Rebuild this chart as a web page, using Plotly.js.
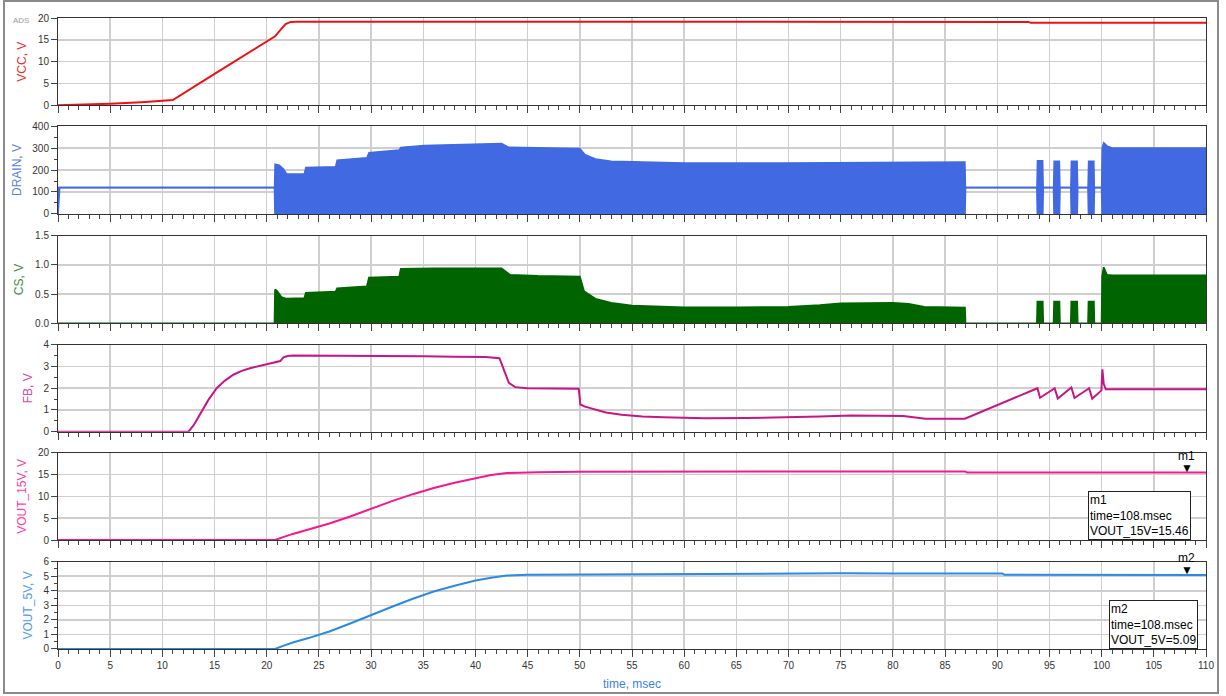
<!DOCTYPE html>
<html><head><meta charset="utf-8">
<script src="https://cdn.plot.ly/plotly-3.0.1.min.js"></script>
<style>
html,body{margin:0;padding:0;background:#fff;}
#wrap{position:relative;width:1226px;height:696px;overflow:hidden;}
#chart{width:1226px;height:696px;}
#frame{position:absolute;left:3px;top:0px;width:1212px;height:690px;border:2px solid #8a8a8a;pointer-events:none;}
</style></head><body>
<div id="wrap"><div id="chart"></div><div id="frame"></div></div>
<script>
// ---- data (time in msec) ----
const vcc_t = [0, 2, 5, 8, 10, 11.0, 15, 20, 20.8, 21.4, 21.8, 22.3, 22.8, 50, 80, 93, 93.2, 110];
const vcc_v = [0, 0.1, 0.35, 0.7, 1.0, 1.2, 7.2, 14.7, 15.8, 17.5, 18.6, 19.1, 19.15, 19.15, 19.1, 19.1, 18.9, 18.9];

const drain_t  = [0, 0.15, 20.75, 20.8, 21.2, 21.6, 21.9, 23.6, 23.75, 26.6, 26.75, 29.6, 29.8, 32.7, 32.85, 35.1, 38, 40.1, 42.5, 43.2, 47, 50.0, 50.5, 51.5, 53, 60, 70, 80, 82, 86.9, 86.95, 93.8, 93.85, 94.35, 94.4, 95.4, 95.45, 95.95, 96.0, 97.05, 97.1, 97.65, 97.7, 98.7, 98.75, 99.25, 99.3, 100.0, 100.05, 100.2, 100.5, 101, 110];
const drain_hi = [120, 120, 120, 226, 222, 205, 182, 182, 212, 215, 245, 256, 279, 291, 303, 312, 316, 320, 320, 303, 300, 298, 270, 250, 240, 232, 232, 233, 236, 236, 120, 120, 242, 242, 120, 120, 240, 240, 120, 120, 240, 240, 120, 120, 240, 240, 120, 120, 300, 324, 310, 300, 300];
const drain_lo = [0, 120, 120, 0, 0, 0, 0, 0, 0, 0, 0, 0, 0, 0, 0, 0, 0, 0, 0, 0, 0, 0, 0, 0, 0, 0, 0, 0, 0, 0, 120, 120, 0, 0, 120, 120, 0, 0, 120, 120, 0, 0, 120, 120, 0, 0, 120, 120, 0, 0, 0, 0, 0];

const cs_t = [0, 20.75, 20.8, 21.0, 21.4, 21.9, 23.6, 23.75, 26.6, 26.75, 29.6, 29.8, 32.7, 32.85, 36, 40, 42.5, 43.3, 46, 50.0, 50.4, 51.5, 53, 55, 60, 65, 70, 73, 75, 80, 81.5, 83, 86.9, 86.95, 93.8, 93.85, 94.35, 94.4, 95.4, 95.45, 95.95, 96.0, 97.05, 97.1, 97.65, 97.7, 98.7, 98.75, 99.25, 99.3, 100.0, 100.05, 100.2, 100.5, 101, 110];
const cs_v = [0, 0, 0.58, 0.55, 0.45, 0.42, 0.43, 0.52, 0.54, 0.6, 0.63, 0.78, 0.8, 0.93, 0.94, 0.94, 0.94, 0.83, 0.81, 0.8, 0.55, 0.42, 0.35, 0.3, 0.27, 0.27, 0.28, 0.31, 0.34, 0.35, 0.33, 0.28, 0.27, 0, 0, 0.37, 0.37, 0, 0, 0.37, 0.37, 0, 0, 0.37, 0.37, 0, 0, 0.37, 0.37, 0, 0, 0.8, 0.96, 0.83, 0.82, 0.82];

const fb_t = [0, 12.5, 13.0, 13.6, 14.4, 15.2, 16.0, 16.8, 17.6, 18.4, 19.2, 20.0, 20.9, 21.3, 21.6, 22.0, 22.5, 25, 30, 35, 38, 41, 42.3, 42.7, 43.2, 43.8, 45, 49.9, 50.05, 50.5, 51.5, 52.5, 54, 56, 58, 62, 66, 70, 73, 76, 79, 81, 83.1, 86.9, 93.85, 94.1, 95.5, 95.8, 97.1, 97.4, 98.8, 99.1, 99.98, 100.07, 100.2, 100.4, 102, 110];
const fb_v = [0, 0, 0.3, 0.8, 1.45, 2.0, 2.35, 2.62, 2.8, 2.92, 3.02, 3.1, 3.2, 3.25, 3.42, 3.48, 3.5, 3.5, 3.5, 3.47, 3.45, 3.44, 3.38, 2.9, 2.25, 2.05, 2.0, 1.97, 1.25, 1.15, 1.0, 0.88, 0.78, 0.7, 0.66, 0.62, 0.63, 0.66, 0.7, 0.75, 0.75, 0.72, 0.6, 0.6, 2.0, 1.56, 2.0, 1.52, 2.03, 1.55, 2.0, 1.52, 1.9, 2.87, 2.2, 1.95, 1.95, 1.95];

const v15_t = [0, 20.8, 21.5, 22.5, 24, 26, 28, 30, 32, 34, 36, 38, 40, 41.5, 43, 44, 46, 50, 60, 70, 80, 86.9, 87.1, 100, 110];
const v15_v = [0, 0, 0.6, 1.4, 2.4, 3.8, 5.4, 7.2, 8.9, 10.5, 11.9, 13.1, 14.2, 14.9, 15.35, 15.45, 15.55, 15.65, 15.7, 15.7, 15.7, 15.7, 15.46, 15.46, 15.46];

const v5_t = [0, 20.8, 21.5, 22.5, 24, 26, 28, 30, 32, 34, 36, 38, 40, 41.5, 43, 45, 50, 55, 60, 65, 70, 75, 80, 90.5, 90.7, 100, 100.1, 101, 101.2, 110];
const v5_v = [0, 0, 0.2, 0.45, 0.75, 1.2, 1.75, 2.35, 2.9, 3.45, 3.95, 4.35, 4.7, 4.9, 5.05, 5.1, 5.12, 5.15, 5.17, 5.2, 5.22, 5.2, 5.18, 5.18, 5.1, 5.1, 5.05, 5.05, 5.09, 5.09];

const marker_time = 108;
const m1_value = 15.46;
const m2_value = 5.09;

const y_titles = ['VCC, V', 'DRAIN, V', 'CS, V', 'FB, V', 'VOUT_15V, V', 'VOUT_5V, V'];
const x_title = 'time, msec';

// ---- styling ----
const FONT = 'Liberation Sans, Arial, sans-serif';
const c_vcc = '#ee1111', c_drain = '#4169e1', c_cs = '#006400', c_fb = '#c71585', c_v15 = '#f7178f', c_v5 = '#2b8ae6';
const t_cols = ['#e83030', '#5b7fe2', '#3c8c3c', '#d54aa3', '#ff40a0', '#4d9be8'];
const doms = [[0.8617, 1], [0.6894, 0.8288], [0.5162, 0.6550], [0.3444, 0.4822], [0.1727, 0.3111], [0, 0.1384]];
const yr = [[0, 20], [0, 400], [0, 1.5], [0, 4], [0, 20], [0, 6]];
const ydt = [5, 100, 0.5, 1, 5, 1];
const yminor = [null, 50, null, 0.5, null, 0.5];

const traces = [
  {x: vcc_t, y: vcc_v, xaxis: 'x', yaxis: 'y', mode: 'lines', line: {color: c_vcc, width: 2}},
  {x: drain_t, y: drain_lo, xaxis: 'x2', yaxis: 'y2', mode: 'lines', line: {color: c_drain, width: 1.8}},
  {x: drain_t, y: drain_hi, xaxis: 'x2', yaxis: 'y2', mode: 'lines', line: {color: c_drain, width: 1.5}, fill: 'tonexty', fillcolor: c_drain},
  {x: cs_t, y: cs_v, xaxis: 'x3', yaxis: 'y3', mode: 'lines', line: {color: c_cs, width: 1.8}, fill: 'tozeroy', fillcolor: c_cs},
  {x: fb_t, y: fb_v, xaxis: 'x4', yaxis: 'y4', mode: 'lines', line: {color: c_fb, width: 2}},
  {x: v15_t, y: v15_v, xaxis: 'x5', yaxis: 'y5', mode: 'lines', line: {color: c_v15, width: 2}},
  {x: v5_t, y: v5_v, xaxis: 'x6', yaxis: 'y6', mode: 'lines', line: {color: c_v5, width: 2}}
];

const layout = {
  width: 1226, height: 696,
  margin: {l: 58, r: 20, t: 18, b: 47},
  paper_bgcolor: '#ffffff', plot_bgcolor: '#ffffff',
  showlegend: false,
  font: {family: FONT, size: 10, color: '#222'},
  annotations: [],
  shapes: []
};

for (let i = 0; i < 6; i++) {
  const n = i === 0 ? '' : String(i + 1);
  const last = i === 5;
  const xa = {
    domain: [0, 1], range: [0, 110], anchor: 'y' + n,
    tick0: 0, dtick: 5, ticks: 'outside', ticklen: 7, tickwidth: 1, tickcolor: '#444',
    minor: {dtick: 1, ticklen: 4, tickcolor: '#444', tickwidth: 1, showgrid: false},
    showgrid: true, gridcolor: '#cfcfcf', gridwidth: 1.5,
    showline: true, linecolor: '#333', linewidth: 1, mirror: true, zeroline: false,
    showticklabels: last, tickfont: {size: 10, color: '#333'}
  };
  if (i > 0) xa.matches = 'x';
  if (last) xa.title = {text: x_title, font: {size: 12, color: '#3d7fe0'}, standoff: 9};
  layout['xaxis' + n] = xa;
  const ya = {
    domain: doms[i], range: yr[i], anchor: 'x' + n,
    tick0: 0, dtick: ydt[i], ticks: 'outside', ticklen: 6, tickwidth: 1, tickcolor: '#444',
    showgrid: true, gridcolor: '#cfcfcf', gridwidth: 1.5,
    showline: true, linecolor: '#333', linewidth: 1, mirror: true, zeroline: false,
    tickfont: {size: 10, color: '#333'},
    title: {text: y_titles[i], font: {size: 12, color: t_cols[i]}, standoff: 8}
  };
  if (i === 2) ya.tickformat = '.1f';
  if (yminor[i]) ya.minor = {dtick: yminor[i], ticklen: 3, tickcolor: '#444', showgrid: false};
  layout['yaxis' + n] = ya;
}

// markers and readouts
function addMarker(name, xr, yref, val, boxX, label) {
  layout.annotations.push({xref: xr, yref: yref, x: marker_time, y: val, text: '\u25BC', showarrow: false,
    yanchor: 'bottom', yshift: -4, xshift: 2, font: {size: 12, color: '#000'}});
  layout.annotations.push({xref: xr, yref: yref, x: marker_time, y: val, text: name, showarrow: false,
    yanchor: 'bottom', yshift: 8, xshift: 1, font: {size: 12, color: '#000'}});
  layout.annotations.push({xref: xr, yref: yref, x: boxX, y: 0, xanchor: 'left', yanchor: 'bottom', align: 'left',
    text: name + '<br>time=' + marker_time + '.msec<br>' + label + '=' + val.toFixed(2),
    showarrow: false, bordercolor: '#222', borderwidth: 1, borderpad: 1, bgcolor: '#ffffff',
    font: {size: 12, color: '#000'}});
}
addMarker('m1', 'x5', 'y5', m1_value, 98.7, 'VOUT_15V');
addMarker('m2', 'x6', 'y6', m2_value, 100.7, 'VOUT_5V');

layout.annotations.push({xref: 'paper', yref: 'paper', x: -0.041, y: 1.006, text: 'ADS', showarrow: false,
  font: {size: 8, color: '#9a9a9a'}});

Plotly.newPlot('chart', traces, layout, {staticPlot: true, displayModeBar: false});
</script></body></html>
